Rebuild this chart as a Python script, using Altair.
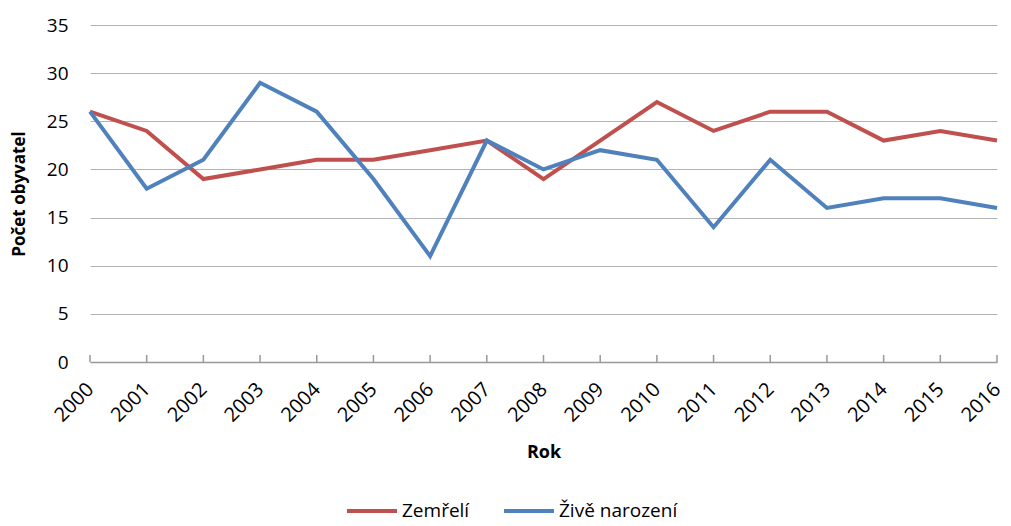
import altair as alt
import pandas as pd

years = [str(y) for y in range(2000, 2017)]
zemreli = [26, 24, 19, 20, 21, 21, 22, 23, 19, 23, 27, 24, 26, 26, 23, 24, 23]
zive = [26, 18, 21, 29, 26, 19, 11, 23, 20, 22, 21, 14, 21, 16, 17, 17, 16]
series = ["Zemřelí", "Živě narození"]
colors = ["#C0504D", "#4F81BD"]

rows = []
for i, y in enumerate(years):
    rows.append({"Rok": y, "Série": series[0], "Hodnota": zemreli[i], "ord": 0})
    rows.append({"Rok": y, "Série": series[1], "Hodnota": zive[i], "ord": 1})
df = pd.DataFrame(rows)
ticks_df = pd.DataFrame({"Rok": years})

FONT = "Open Sans"
W, H = 907, 337

xscale = alt.Scale(type="point", padding=0, domain=years)

lines = alt.Chart(df).mark_line(strokeWidth=4).encode(
    x=alt.X("Rok:O", scale=xscale,
            axis=alt.Axis(title="Rok", labelAngle=-45, labelAlign="right", labelBaseline="middle",
                          labelFontSize=20, labelColor="#000", labelPadding=24, ticks=False,
                          domainColor="#999999", domainWidth=1.5, titleFontSize=18,
                          titleFontWeight="bold", titleColor="#000", titlePadding=18,
                          labelFont=FONT, titleFont=FONT, grid=False)),
    y=alt.Y("Hodnota:Q", scale=alt.Scale(domain=[0, 35]),
            axis=alt.Axis(title="Počet obyvatel", values=list(range(0, 36, 5)), domain=False,
                          ticks=False, gridColor="#b3b3b3", gridWidth=1.2, labelFontSize=19,
                          labelColor="#000", labelPadding=22, titleFontSize=17,
                          titleFontWeight="bold", titleColor="#000", titlePadding=18,
                          labelFont=FONT, titleFont=FONT)),
    color=alt.Color("Série:N", scale=alt.Scale(domain=series, range=colors),
                    legend=alt.Legend(title=None, orient="none", legendX=255, legendY=459,
                                      direction="horizontal", symbolType="stroke",
                                      symbolStrokeWidth=4, symbolSize=2500, labelFontSize=19,
                                      labelFont=FONT, labelColor="#000", columnPadding=26,
                                      labelOffset=3)),
    order=alt.Order("ord:Q"),
)

tick_marks = alt.Chart(ticks_df).mark_rule(color="#999999", strokeWidth=1.5).encode(
    x=alt.X("Rok:O", scale=xscale),
    y=alt.value(H),
    y2=alt.value(H - 7),
)

chart = alt.layer(lines, tick_marks).properties(
    width=W, height=H,
    autosize=alt.AutoSizeParams(type="none"),
    padding={"left": 82, "top": 17, "right": 6, "bottom": 164},
).configure_view(stroke=None)

chart.save("out.html", embed_options={"renderer": "svg", "actions": False})
